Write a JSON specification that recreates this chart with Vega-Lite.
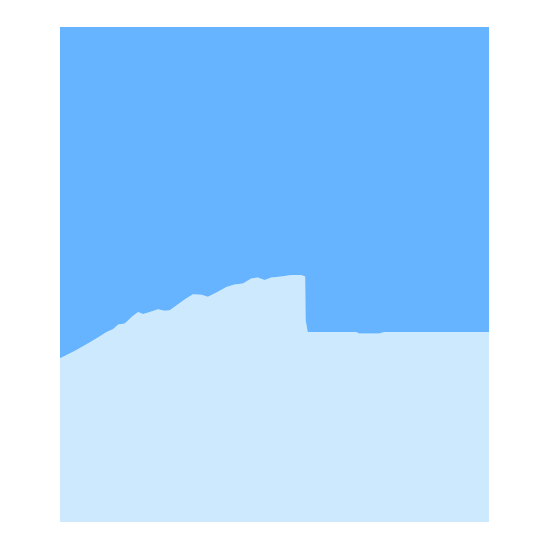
{
  "$schema": "https://vega.github.io/schema/vega-lite/v6.json",
  "width": 550,
  "height": 550,
  "autosize": {"type": "fit", "contains": "padding"},
  "padding": {"left": 60, "right": 61, "top": 27, "bottom": 28},
  "background": "white",
  "config": {"view": {"stroke": null}},
  "data": {
    "values": [
      {"x": 0, "series": "lower", "value": 33.1}, {"x": 0, "series": "upper", "value": 66.9},
      {"x": 3.49, "series": "lower", "value": 34.6}, {"x": 3.49, "series": "upper", "value": 65.4},
      {"x": 6.58, "series": "lower", "value": 36.1}, {"x": 6.58, "series": "upper", "value": 63.9},
      {"x": 8.91, "series": "lower", "value": 37.3}, {"x": 8.91, "series": "upper", "value": 62.7},
      {"x": 10.86, "series": "lower", "value": 38.4}, {"x": 10.86, "series": "upper", "value": 61.6},
      {"x": 12.4, "series": "lower", "value": 39.0}, {"x": 12.4, "series": "upper", "value": 61.0},
      {"x": 13.56, "series": "lower", "value": 39.9}, {"x": 13.56, "series": "upper", "value": 60.1},
      {"x": 15.12, "series": "lower", "value": 40.1}, {"x": 15.12, "series": "upper", "value": 59.9},
      {"x": 16.67, "series": "lower", "value": 41.4}, {"x": 16.67, "series": "upper", "value": 58.6},
      {"x": 18.21, "series": "lower", "value": 42.4}, {"x": 18.21, "series": "upper", "value": 57.6},
      {"x": 19.37, "series": "lower", "value": 42.0}, {"x": 19.37, "series": "upper", "value": 58.0},
      {"x": 20.93, "series": "lower", "value": 42.4}, {"x": 20.93, "series": "upper", "value": 57.6},
      {"x": 22.86, "series": "lower", "value": 43.0}, {"x": 22.86, "series": "upper", "value": 57.0},
      {"x": 24.42, "series": "lower", "value": 42.7}, {"x": 24.42, "series": "upper", "value": 57.3},
      {"x": 25.58, "series": "lower", "value": 42.8}, {"x": 25.58, "series": "upper", "value": 57.2},
      {"x": 27.51, "series": "lower", "value": 44.0}, {"x": 27.51, "series": "upper", "value": 56.0},
      {"x": 29.47, "series": "lower", "value": 45.2}, {"x": 29.47, "series": "upper", "value": 54.8},
      {"x": 31.0, "series": "lower", "value": 46.0}, {"x": 31.0, "series": "upper", "value": 54.0},
      {"x": 32.95, "series": "lower", "value": 45.9}, {"x": 32.95, "series": "upper", "value": 54.1},
      {"x": 34.49, "series": "lower", "value": 45.5}, {"x": 34.49, "series": "upper", "value": 54.5},
      {"x": 36.81, "series": "lower", "value": 46.5}, {"x": 36.81, "series": "upper", "value": 53.5},
      {"x": 38.77, "series": "lower", "value": 47.5}, {"x": 38.77, "series": "upper", "value": 52.5},
      {"x": 40.7, "series": "lower", "value": 48.0}, {"x": 40.7, "series": "upper", "value": 52.0},
      {"x": 42.63, "series": "lower", "value": 48.2}, {"x": 42.63, "series": "upper", "value": 51.8},
      {"x": 44.58, "series": "lower", "value": 49.2}, {"x": 44.58, "series": "upper", "value": 50.8},
      {"x": 46.12, "series": "lower", "value": 49.4}, {"x": 46.12, "series": "upper", "value": 50.6},
      {"x": 47.67, "series": "lower", "value": 48.9}, {"x": 47.67, "series": "upper", "value": 51.1},
      {"x": 49.23, "series": "lower", "value": 49.4}, {"x": 49.23, "series": "upper", "value": 50.6},
      {"x": 51.56, "series": "lower", "value": 49.6}, {"x": 51.56, "series": "upper", "value": 50.4},
      {"x": 53.88, "series": "lower", "value": 49.9}, {"x": 53.88, "series": "upper", "value": 50.1},
      {"x": 56.21, "series": "lower", "value": 49.9}, {"x": 56.21, "series": "upper", "value": 50.1},
      {"x": 57.14, "series": "lower", "value": 49.6}, {"x": 57.14, "series": "upper", "value": 50.4},
      {"x": 57.26, "series": "lower", "value": 40.8}, {"x": 57.26, "series": "upper", "value": 59.2},
      {"x": 57.74, "series": "lower", "value": 38.4}, {"x": 57.74, "series": "upper", "value": 61.6},
      {"x": 69.0, "series": "lower", "value": 38.4}, {"x": 69.0, "series": "upper", "value": 61.6},
      {"x": 69.77, "series": "lower", "value": 38.1}, {"x": 69.77, "series": "upper", "value": 61.9},
      {"x": 74.42, "series": "lower", "value": 38.1}, {"x": 74.42, "series": "upper", "value": 61.9},
      {"x": 75.58, "series": "lower", "value": 38.4}, {"x": 75.58, "series": "upper", "value": 61.6},
      {"x": 100, "series": "lower", "value": 38.4}, {"x": 100, "series": "upper", "value": 61.6}
    ]
  },
  "mark": {"type": "area", "interpolate": "linear"},
  "encoding": {
    "x": {
      "field": "x",
      "type": "quantitative",
      "axis": null,
      "scale": {"domain": [0, 100], "nice": false, "zero": false}
    },
    "y": {
      "field": "value",
      "type": "quantitative",
      "stack": "normalize",
      "axis": null
    },
    "color": {
      "field": "series",
      "type": "nominal",
      "legend": null,
      "scale": {"domain": ["lower", "upper"], "range": ["#cde9fe", "#66b3ff"]}
    },
    "order": {"field": "series", "sort": "ascending"}
  }
}
